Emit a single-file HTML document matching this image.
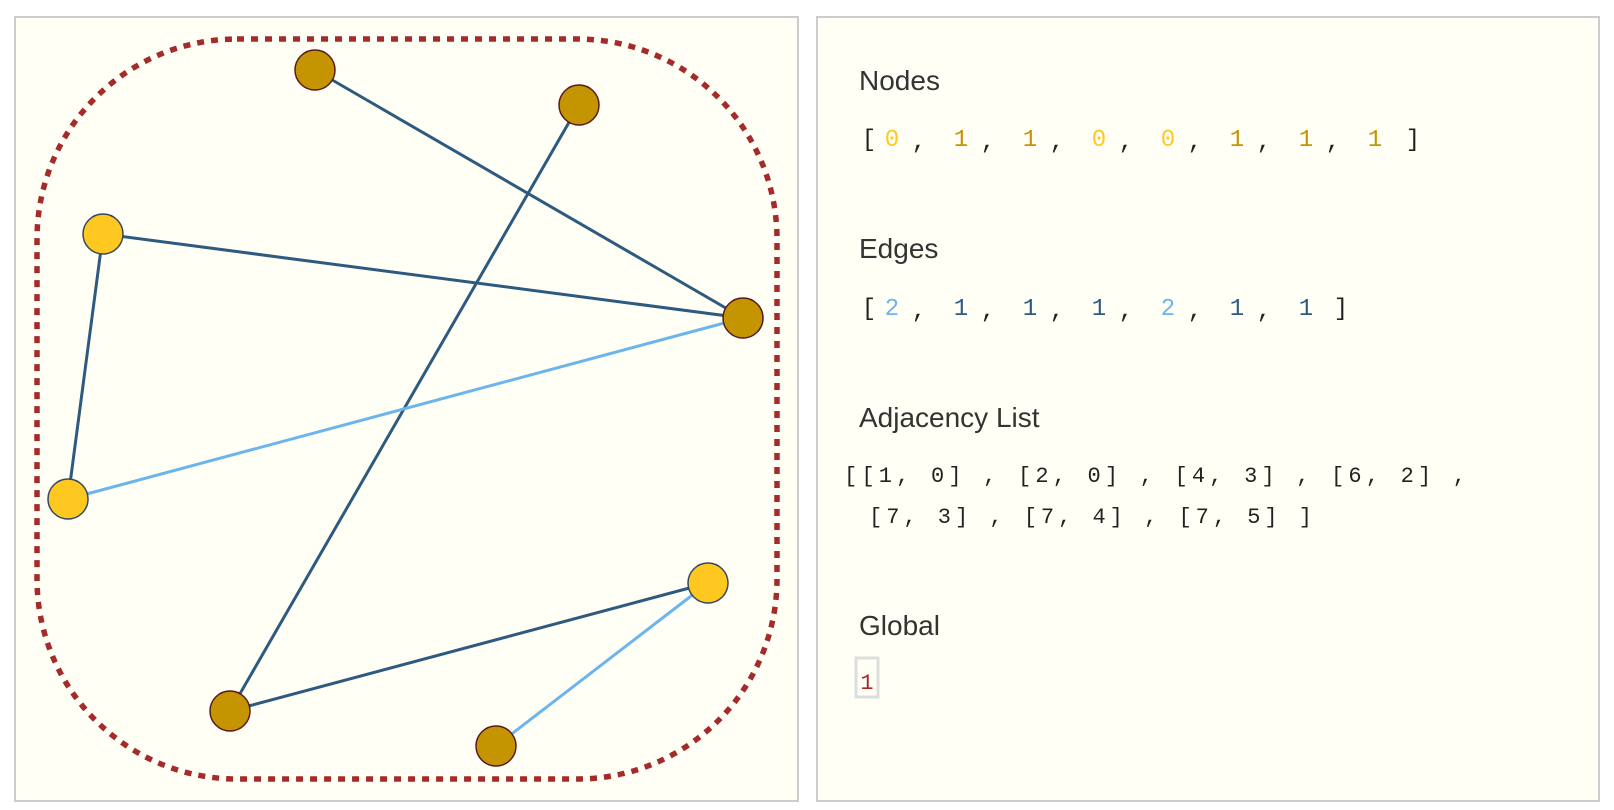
<!DOCTYPE html>
<html><head><meta charset="utf-8"><style>html,body{margin:0;padding:0;background:#fff}svg{display:block}</style></head>
<body>
<svg width="1614" height="810" viewBox="0 0 1614 810" xmlns="http://www.w3.org/2000/svg">
<rect x="15" y="17" width="783" height="784" fill="#fffff6" stroke="#cccccc" stroke-width="2"/>
<rect x="817" y="17" width="782" height="784" fill="#fffff6" stroke="#cccccc" stroke-width="2"/>
<rect x="37" y="39" width="740" height="740" rx="200" ry="200" fill="none" stroke="#a52a2a" stroke-width="5.5" stroke-dasharray="7 7"/>
<g stroke-width="3" stroke-linecap="round">
<line x1="315" y1="70" x2="743" y2="318" stroke="#2e5a80"/>
<line x1="579" y1="105" x2="230" y2="711" stroke="#2e5a80"/>
<line x1="103" y1="234" x2="743" y2="318" stroke="#2e5a80"/>
<line x1="103" y1="234" x2="68" y2="499" stroke="#2e5a80"/>
<line x1="68" y1="499" x2="743" y2="318" stroke="#6cb4ee"/>
<line x1="230" y1="711" x2="708" y2="583" stroke="#2e5a80"/>
<line x1="496" y1="746" x2="708" y2="583" stroke="#6cb4ee"/>
</g>
<g stroke-width="1.5">
<circle cx="315" cy="70" r="20" fill="#c49500" stroke="#5a1a1a"/>
<circle cx="579" cy="105" r="20" fill="#c49500" stroke="#5a1a1a"/>
<circle cx="103" cy="234" r="20" fill="#ffc820" stroke="#34495e"/>
<circle cx="743" cy="318" r="20" fill="#c49500" stroke="#5a1a1a"/>
<circle cx="68" cy="499" r="20" fill="#ffc820" stroke="#34495e"/>
<circle cx="708" cy="583" r="20" fill="#ffc820" stroke="#34495e"/>
<circle cx="230" cy="711" r="20" fill="#c49500" stroke="#5a1a1a"/>
<circle cx="496" cy="746" r="20" fill="#c49500" stroke="#5a1a1a"/>
</g>
<g font-family="Liberation Sans, sans-serif" font-size="28" fill="#333">
<text x="859" y="90">Nodes</text>
<text x="859" y="258">Edges</text>
<text x="859" y="427">Adjacency List</text>
<text x="859" y="635">Global</text>
</g>
<g font-family="Liberation Mono, monospace" font-size="24" fill="#222" text-anchor="middle">
<text x="869" y="146">[</text>
<text x="892" y="146" fill="#ffc820">0</text><text x="919" y="148">,</text>
<text x="961" y="146" fill="#c49500">1</text><text x="988" y="148">,</text>
<text x="1030" y="146" fill="#c49500">1</text><text x="1057" y="148">,</text>
<text x="1099" y="146" fill="#ffc820">0</text><text x="1126" y="148">,</text>
<text x="1168" y="146" fill="#ffc820">0</text><text x="1195" y="148">,</text>
<text x="1237" y="146" fill="#c49500">1</text><text x="1264" y="148">,</text>
<text x="1306" y="146" fill="#c49500">1</text><text x="1333" y="148">,</text>
<text x="1375" y="146" fill="#c49500">1</text>
<text x="1413" y="146">]</text>

<text x="869" y="315">[</text>
<text x="892" y="315" fill="#6cb4ee">2</text><text x="919" y="317">,</text>
<text x="961" y="315" fill="#2e5a80">1</text><text x="988" y="317">,</text>
<text x="1030" y="315" fill="#2e5a80">1</text><text x="1057" y="317">,</text>
<text x="1099" y="315" fill="#2e5a80">1</text><text x="1126" y="317">,</text>
<text x="1168" y="315" fill="#6cb4ee">2</text><text x="1195" y="317">,</text>
<text x="1237" y="315" fill="#2e5a80">1</text><text x="1264" y="317">,</text>
<text x="1306" y="315" fill="#2e5a80">1</text>
<text x="1341" y="315">]</text>
</g>
<g font-family="Liberation Mono, monospace" font-size="22" fill="#222">
<text x="844" y="482" textLength="622" lengthAdjust="spacing" xml:space="preserve">[[1, 0] , [2, 0] , [4, 3] , [6, 2] ,</text>
<text x="869" y="523" textLength="443" lengthAdjust="spacing" xml:space="preserve">[7, 3] , [7, 4] , [7, 5] ]</text>
</g>
<rect x="856" y="658" width="22" height="39" fill="none" stroke="#dddddd" stroke-width="3"/>
<text x="867" y="689" font-family="Liberation Mono, monospace" font-size="22" fill="#a52a2a" text-anchor="middle">1</text>
</svg>
</body></html>
